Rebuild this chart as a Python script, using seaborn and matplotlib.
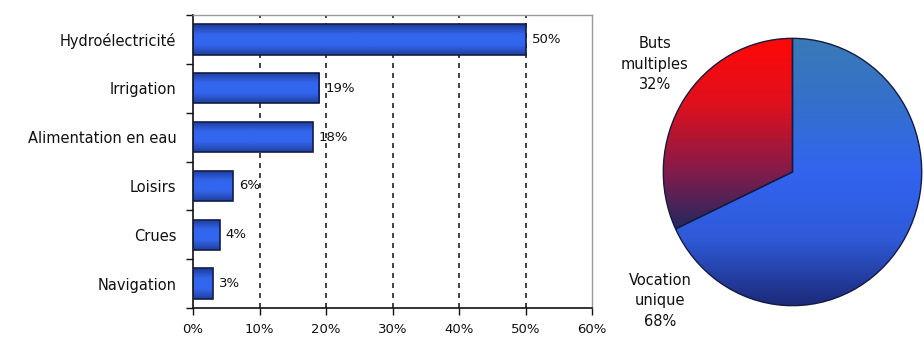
import numpy as np
import pandas as pd
import matplotlib
matplotlib.use('Agg')
import matplotlib.pyplot as plt
from matplotlib.colors import LinearSegmentedColormap
import seaborn as sns

# data
uses = ['Hydroélectricité', 'Irrigation', 'Alimentation en eau', 'Loisirs', 'Crues', 'Navigation']
shares = [50, 19, 18, 6, 4, 3]
x_ticks = [0, 10, 20, 30, 40, 50, 60]
pie_labels = ['Buts\nmultiples\n32%', 'Vocation\nunique\n68%']
pie_shares = [32, 68]

sns.set_theme(style='white')
plt.rcParams['font.family'] = ['DejaVu Sans']

bar_cmap = LinearSegmentedColormap.from_list('bar', ['#1e3f9c', '#3366ee', '#3366ee', '#1c3a96'])
red_cmap = LinearSegmentedColormap.from_list('red', ['#1d2a62', '#8a1a48', '#e0101c', '#ff0808'])
blue_cmap = LinearSegmentedColormap.from_list('blue', ['#1c2a78', '#2f5ad8', '#3264f0', '#3470cc', '#3a7ab6'])


def fill_gradient(ax, patch, cmap, extent, z):
    grad = np.linspace(0, 1, 256).reshape(-1, 1)
    im = ax.imshow(grad, cmap=cmap, extent=extent, origin='lower', aspect='auto',
                   interpolation='bicubic', zorder=z)
    im.set_clip_path(patch)
    patch.set_facecolor('none')


fig = plt.figure(figsize=(9.24, 3.43), dpi=100)

# bar chart
ax = fig.add_axes([193 / 924, 1 - 308 / 343, 399 / 924, 293 / 343])
df = pd.DataFrame({'use': uses, 'share': shares})
sns.barplot(data=df, x='share', y='use', orient='h', color='#3366ee', width=0.62,
            edgecolor='#141c48', linewidth=1.2, ax=ax, zorder=3)

for p in list(ax.patches):
    b = p.get_bbox()
    fill_gradient(ax, p, bar_cmap, [b.x0, b.x1, b.y1, b.y0], 2.5)

ax.set_xlim(0, 60)
ax.set_ylim(5.5, -0.5)
ax.set_xticks(x_ticks)
ax.set_xticklabels([f'{t}%' for t in x_ticks], fontsize=9.5)
ax.set_yticks(np.arange(len(uses)))
ax.set_yticklabels(uses, fontsize=10.5)
ax.set_yticks(np.arange(-0.5, len(uses)), minor=True)
ax.tick_params(axis='y', which='major', length=0, pad=12, colors='#111111')
ax.tick_params(axis='y', which='minor', length=5, width=1, direction='out', color='#111111', left=True)
ax.tick_params(axis='x', which='major', length=5, width=1, direction='out', color='#111111',
               bottom=True, pad=6, colors='#111111')
ax.set_xlabel('')
ax.set_ylabel('')

for t in x_ticks[1:-1]:
    ax.axvline(t, color='#222222', linestyle=(0, (3, 3)), linewidth=1.2, zorder=1)

for s in ['left', 'bottom']:
    ax.spines[s].set_color('#111111')
    ax.spines[s].set_linewidth(1.2)
for s in ['top', 'right']:
    ax.spines[s].set_color('#9a9a9a')
    ax.spines[s].set_linewidth(1.0)

for i, v in enumerate(shares):
    ax.text(v + 0.9, i, f'{v}%', va='center', ha='left', fontsize=9.5, color='#111111')

# pie chart
ax2 = fig.add_axes([662 / 924, 1 - 307 / 343, 261 / 924, 270 / 343])
wedges, _ = ax2.pie(pie_shares, startangle=90, counterclock=True,
                    wedgeprops=dict(edgecolor='#151a40', linewidth=1.0))
fill_gradient(ax2, wedges[0], red_cmap, [-1, 0, -0.45, 1], 0.5)
fill_gradient(ax2, wedges[1], blue_cmap, [-1, 1, -1, 1], 0.5)
ax2.set_xlim(-1.01, 1.01)
ax2.set_ylim(-1.01, 1.01)
ax2.set_aspect('auto')
ax2.axis('off')

fig.text(655 / 924, 1 - 64 / 343, pie_labels[0], ha='center', va='center',
         fontsize=10.5, linespacing=1.45, color='#111111')
fig.text(660 / 924, 1 - 301 / 343, pie_labels[1], ha='center', va='center',
         fontsize=10.5, linespacing=1.45, color='#111111')

fig.savefig('out.png', dpi=100)
